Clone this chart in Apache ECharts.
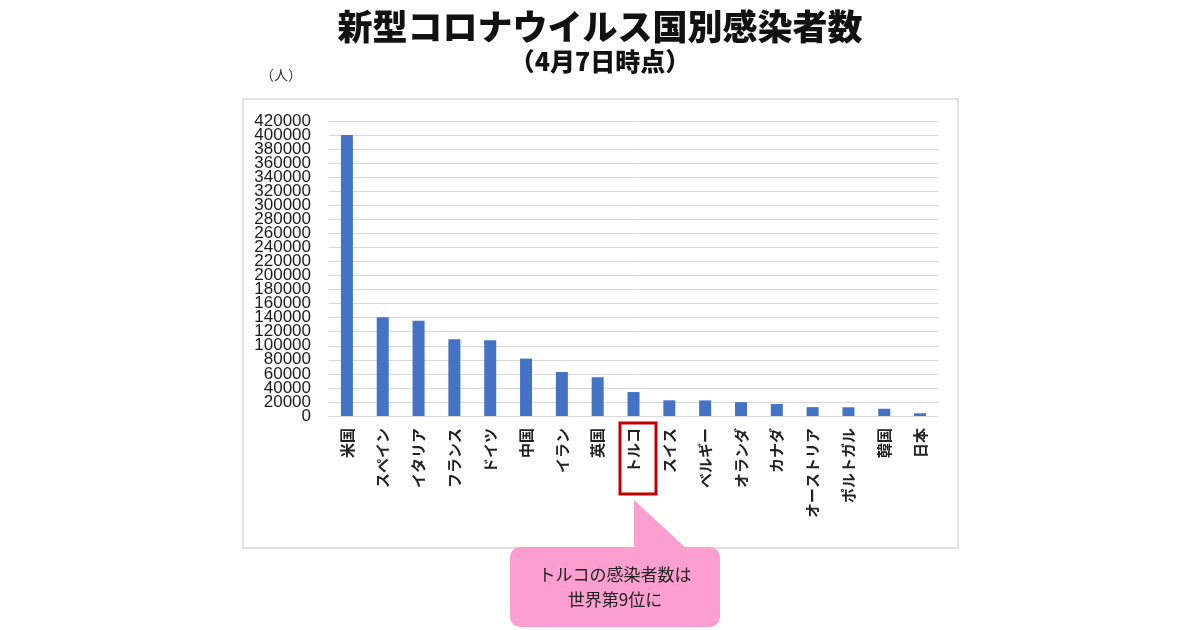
<!DOCTYPE html>
<html><head><meta charset="utf-8">
<script src="https://cdn.jsdelivr.net/npm/echarts@6/dist/echarts.min.js"></script>
<style>html,body{margin:0;padding:0;background:#fff}#c{width:1200px;height:630px}</style>
</head><body><div id="c"></div>
<script>
const categories = ['米国','スペイン','イタリア','フランス','ドイツ','中国','イラン','英国','トルコ','スイス','ベルギー','オランダ','カナダ','オーストリア','ポルトガル','韓国','日本'];
const cases = [400000,140500,135600,109100,107700,81700,62600,55200,34100,22300,22200,19700,17100,12600,12400,10300,3900];
const yTicks = {min:0,max:420000,interval:20000};
const titleText = '新型コロナウイルス国別感染者数';
const subText = '（4月7日時点）';
const unitText = '（人）';
const calloutText = 'トルコの感染者数は\n世界第9位に';

// pad the axis by one step each side so ECharts' min/max overlap check only hides blank padding labels
const padMin = yTicks.min - yTicks.interval;
const padMax = yTicks.max + yTicks.interval;
const nLines = (padMax - padMin) / yTicks.interval + 1;
const splitColors = [];
for (let i = 0; i < nLines; i++) splitColors.push(i === 0 || i === nLines - 1 ? 'rgba(0,0,0,0)' : '#d9d9d9');

const chart = echarts.init(document.getElementById('c'));
const jp = '"Noto Sans CJK JP", sans-serif';
const step = 295 / 21;
chart.setOption({
  backgroundColor:'#fff',
  animation:false,
  title:[
    {text:titleText,left:'center',top:4,textStyle:{fontFamily:jp,fontSize:35,fontWeight:900,color:'#111'}},
    {text:subText,left:'center',top:44,textStyle:{fontFamily:jp,fontSize:25,fontWeight:900,color:'#111'}}
  ],
  graphic:[
    {type:'rect',z:-1,shape:{x:243,y:99,width:715,height:449},style:{fill:'#fff',stroke:'#d9d9d9',lineWidth:1.5}},
    {type:'text',left:260,top:68,style:{text:unitText,font:'14px "Noto Sans CJK JP"',fill:'#333'}},
    {type:'rect',z:10,shape:{x:620,y:423,width:36,height:71},style:{fill:'none',stroke:'#c00000',lineWidth:3}},
    {type:'polygon',z:10,shape:{points:[[634,500],[634,550],[688,550]]},style:{fill:'#fb9fd0'}},
    {type:'rect',z:10,shape:{x:510,y:547,width:210,height:80,r:10},style:{fill:'#fb9fd0'}},
    {type:'text',z:11,x:615,y:587,style:{text:calloutText,align:'center',verticalAlign:'middle',lineHeight:25,font:'17px "Noto Sans CJK JP"',fill:'#222'}}
  ],
  grid:{left:329,right:262,top:121 - step,bottom:214 - step,containLabel:false},
  xAxis:{
    type:'category',data:categories,
    axisLine:{onZero:true,lineStyle:{color:'#d9d9d9',width:1}},
    axisTick:{show:false},
    axisLabel:{rotate:90,interval:0,margin:-2,fontFamily:jp,fontSize:15,fontWeight:'bold',color:'#222'}
  },
  yAxis:{
    type:'value',min:padMin,max:padMax,interval:yTicks.interval,
    axisLine:{show:false},axisTick:{show:false},
    splitLine:{lineStyle:{color:splitColors,width:1}},
    axisLabel:{margin:18,formatter:function(v){return (v < yTicks.min || v > yTicks.max) ? '' : String(v);},
      fontFamily:'"Liberation Sans", Arial, sans-serif',fontSize:17,color:'#1a1a1a'}
  },
  series:[{type:'bar',data:cases,barWidth:12,itemStyle:{color:'#4472c4'}}]
});
</script></body></html>
